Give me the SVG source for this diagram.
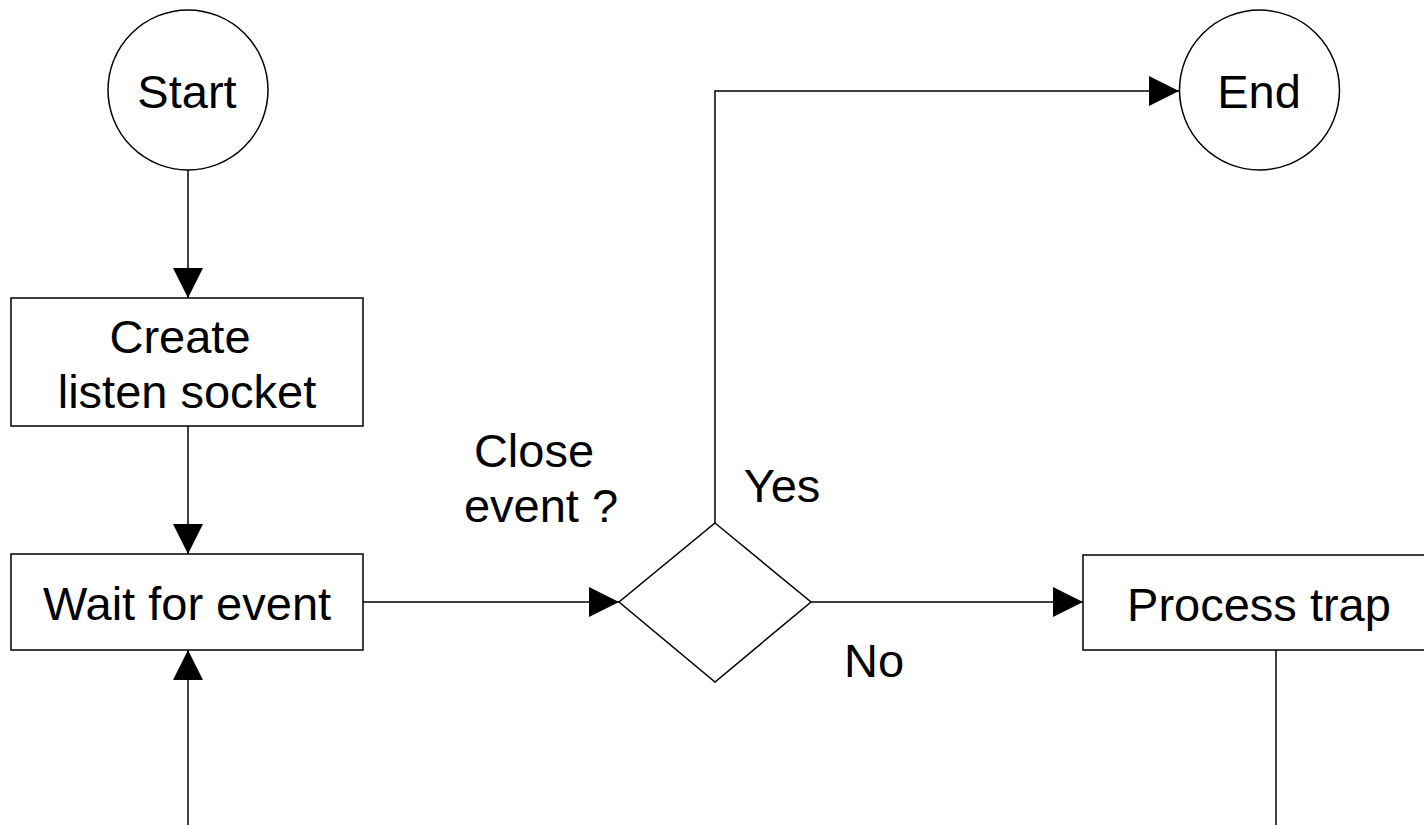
<svg xmlns="http://www.w3.org/2000/svg" width="1424" height="825" viewBox="0 0 1424 825">
  <style>
    .shape { fill: #ffffff; stroke: #000000; stroke-width: 1.5; }
    .wire { fill: none; stroke: #000000; stroke-width: 1.5; }
    .label { font-family: "Liberation Sans", Arial, sans-serif; font-size: 47px; fill: #000000; text-anchor: middle; }
  </style>
  <defs>
    <marker id="arrow" markerUnits="userSpaceOnUse" markerWidth="30" markerHeight="30" refX="30" refY="15" orient="auto">
      <path d="M0,0 L30,15 L0,30 z" fill="#000000"/>
    </marker>
  </defs>
  <rect width="1424" height="825" fill="#ffffff"/>

  <g id="connectors">
    <path class="wire" d="M188,170 L188,298" marker-end="url(#arrow)"/>
    <path class="wire" d="M188,426 L188,554" marker-end="url(#arrow)"/>
    <path class="wire" d="M188,825 L188,650" marker-end="url(#arrow)"/>
    <path class="wire" d="M363,602 L619,602" marker-end="url(#arrow)"/>
    <path class="wire" d="M715,523 L715,91 L1179,91" marker-end="url(#arrow)"/>
    <path class="wire" d="M811,602 L1083,602" marker-end="url(#arrow)"/>
    <path class="wire" d="M1276,650 L1276,825"/>
  </g>

  <g id="start">
    <circle class="shape" cx="188" cy="90" r="80"/>
    <text class="label" x="187" y="108">Start</text>
  </g>

  <g id="create-socket">
    <rect class="shape" x="11" y="298" width="352" height="128"/>
    <text class="label" x="180" y="353">Create</text>
    <text class="label" x="187" y="408">listen socket</text>
  </g>

  <g id="wait-event">
    <rect class="shape" x="11" y="554" width="352" height="96"/>
    <text class="label" x="187" y="620">Wait for event</text>
  </g>

  <g id="close-decision">
    <polygon class="shape" points="715,523 811,602 715,682 619,602"/>
    <text class="label" x="534" y="467">Close</text>
    <text class="label" x="541" y="522">event ?</text>
    <text class="label" x="782" y="502">Yes</text>
    <text class="label" x="874" y="677">No</text>
  </g>

  <g id="end">
    <circle class="shape" cx="1259.5" cy="90" r="80"/>
    <text class="label" x="1259" y="108">End</text>
  </g>

  <g id="process-trap">
    <rect class="shape" x="1083" y="555" width="360" height="95"/>
    <text class="label" x="1259" y="621">Process trap</text>
  </g>
</svg>
